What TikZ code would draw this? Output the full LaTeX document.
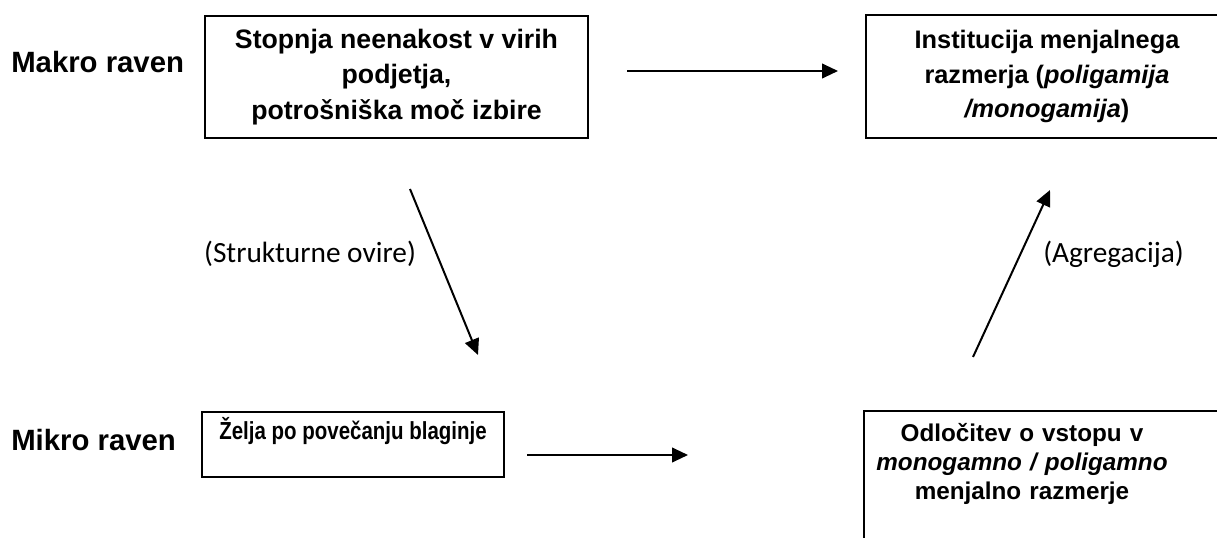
\documentclass[tikz,border=0pt]{standalone}
\usepackage{fontspec}
\setmainfont{Liberation Sans}
\newfontfamily\narrowsans[FakeStretch=0.83]{Liberation Sans}
\newfontfamily\calibrisans{Carlito}
\usetikzlibrary{arrows.meta}

\tikzset{
  box/.style={draw, line width=1.8pt, inner sep=0pt, align=center,
    font=\bfseries\fontsize{20}{26.5}\selectfont},
  level/.style={font=\bfseries\fontsize{22}{26}\selectfont, anchor=base west, inner sep=0pt},
  note/.style={font=\calibrisans\fontsize{22}{26}\selectfont, anchor=base, inner sep=0pt},
  arr/.style={line width=1.5pt, -{Triangle[length=12pt,width=11pt]}}
}

\begin{document}
\begin{tikzpicture}[x=0.75pt,y=-0.75pt]
\useasboundingbox (0,0) rectangle (1217,538);
\clip (0,0) rectangle (1217,538);

% levels
\node[level] (makro) at (11,73) {Makro raven};
\node[level] (mikro) at (11,450) {Mikro raven};

% makro boxes
\node[box, minimum width=287.25pt, minimum height=91.5pt] (stop) at (396.5,77)
  {Stopnja neenakost v virih\\podjetja,\\potrošniška moč izbire};
\node[box, minimum width=271.5pt, minimum height=92.25pt,
  font=\bfseries\fontsize{19}{26}\selectfont] (inst) at (1047,76.5)
  {Institucija menjalnega\\razmerja (\textit{poligamija}\\\textit{/monogamija})};

% mikro boxes
\node[box, anchor=base, minimum width=226.5pt, text height=20.25pt, text depth=28.5pt,
  font=\narrowsans\bfseries\fontsize{18.5}{22}\selectfont] (zelja) at (353,439)
  {Želja po povečanju blaginje};
\node[box, draw=none, anchor=base, text width=235.5pt, text height=21.75pt, text depth=100pt,
  font=\bfseries\fontsize{18.2}{21.75}\selectfont] (odl) at (1022,441)
  {Odločitev o vstopu v\\\textit{monogamno / poligamno}\\menjalno razmerje};
\draw[line width=1.8pt] (odl.south west) -- (odl.north west) -- ++(400,0);

% connectors
\coordinate (stopR) at (627,71);
\coordinate (instL) at (838,71);
\coordinate (zeljaR) at (527,455);
\coordinate (odlL) at (688,455);
\coordinate (strTop) at (410,189);
\coordinate (strBot) at (478,355);
\coordinate (agrBot) at (973,357);
\coordinate (agrTop) at (1050,190);
\draw[arr] (stopR) -- (instL);
\draw[arr] (zeljaR) -- (odlL);
\draw[arr] (strTop) -- (strBot);
\draw[arr] (agrBot) -- (agrTop);

\node[note] (struk) at (310,263) {(Strukturne ovire)};
\node[note] (agr) at (1113.5,263) {(Agregacija)};
\end{tikzpicture}
\end{document}
